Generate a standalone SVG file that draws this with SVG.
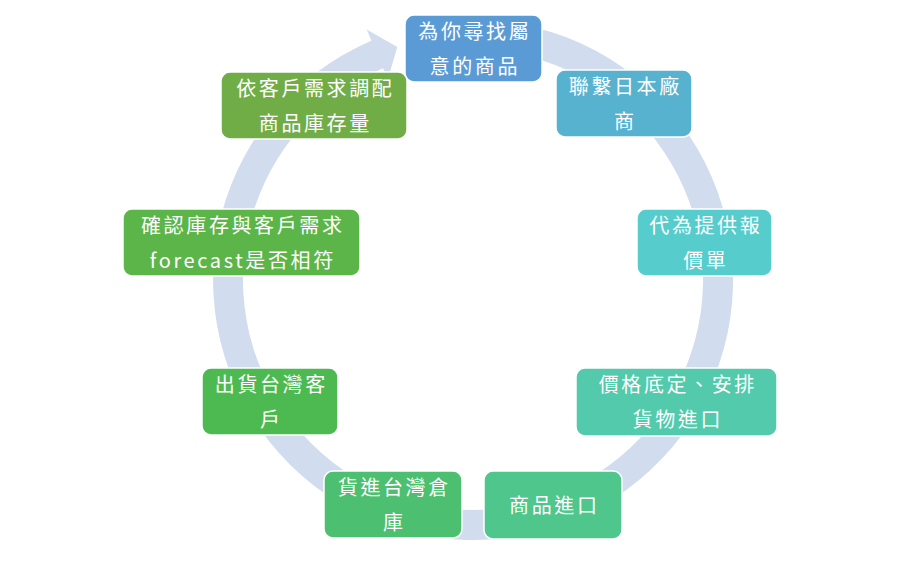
<svg xmlns="http://www.w3.org/2000/svg" width="899" height="562" viewBox="0 0 899 562">
<style>
.node rect{stroke:#ffffff;stroke-width:1.5}
.node text{fill:#ffffff;font-family:"Noto Sans CJK TC","Noto Sans CJK SC",sans-serif;font-size:20px;letter-spacing:2.6px;text-anchor:middle}
</style>
<rect x="0" y="0" width="899" height="562" fill="#ffffff"/>
<g id="connectors">
<path d="M 473,20 A 260 260 0 1 1 371.4,40.7 L 366.7,29.6 L 397.3,47 L 387.8,79.3 L 383.1,68.3 A 230 230 0 1 0 473,50 Z" fill="#D2DCEF"/>
</g>
<g id="n1" class="node"><rect x="405" y="15" width="137" height="67" rx="9" fill="#5B9BD5"/><text x="474.8" y="38.5">為你尋找屬</text><text x="474.8" y="73.5">意的商品</text></g>
<g id="n2" class="node"><rect x="556" y="70" width="136" height="67" rx="9" fill="#57B2CF"/><text x="625.3" y="93.5">聯繫日本廠</text><text x="625.3" y="128.5">商</text></g>
<g id="n3" class="node"><rect x="637" y="209" width="135" height="67" rx="9" fill="#56CCCC"/><text x="705.8" y="232.5">代為提供報</text><text x="705.8" y="267.5">價單</text></g>
<g id="n4" class="node"><rect x="576" y="368" width="201" height="68" rx="9" fill="#52CAAB"/><text x="677.8" y="392">價格底定、安排</text><text x="677.8" y="427">貨物進口</text></g>
<g id="n5" class="node"><rect x="484" y="471" width="138" height="68" rx="9" fill="#4EC68C"/><text x="554.3" y="512.5">商品進口</text></g>
<g id="n6" class="node"><rect x="324" y="471" width="138" height="67" rx="9" fill="#4CC070"/><text x="394.3" y="494.5">貨進台灣倉</text><text x="394.3" y="529.5">庫</text></g>
<g id="n7" class="node"><rect x="202" y="368" width="136" height="67" rx="9" fill="#4CBA50"/><text x="271.3" y="391.5">出貨台灣客</text><text x="271.3" y="426.5">戶</text></g>
<g id="n8" class="node"><rect x="123" y="209" width="237" height="67" rx="9" fill="#5CB548"/><text x="242.8" y="232.5">確認庫存與客戶需求</text><text x="242.8" y="267.5">forecast是否相符</text></g>
<g id="n9" class="node"><rect x="221" y="72" width="186" height="67" rx="9" fill="#70AD47"/><text x="315.3" y="95.5">依客戶需求調配</text><text x="315.3" y="130.5">商品庫存量</text></g>
</svg>
